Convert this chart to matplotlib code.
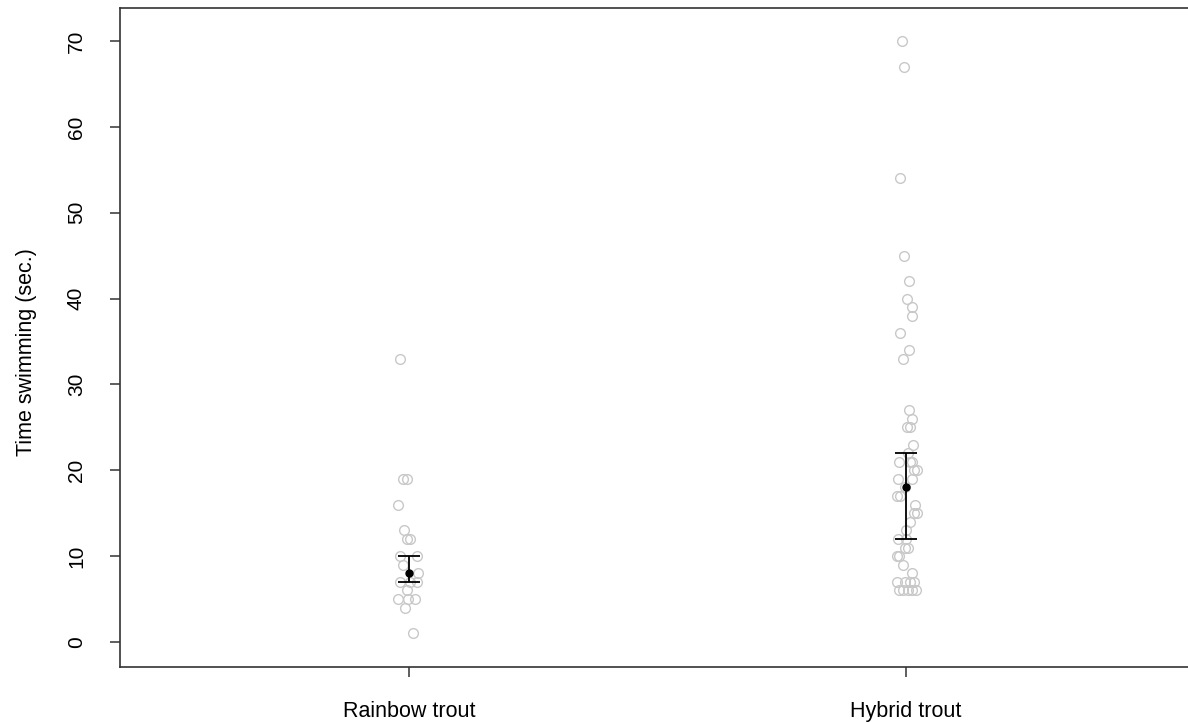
from __future__ import annotations

import matplotlib

matplotlib.use("Agg")
import matplotlib.pyplot as plt

# values (seconds), with the horizontal jitter of each point
groups = ["Rainbow trout", "Hybrid trout"]

rainbow_values = [33, 19, 19, 16, 13, 12, 12, 10, 10, 9, 8, 7, 7, 7, 6, 5, 5, 5, 4, 1]
rainbow_jitter = [-0.018, -0.012, -0.004, -0.022, -0.010, -0.004, 0.002, -0.018, 0.016,
                  -0.012, 0.018, -0.018, 0.002, 0.016, -0.004, -0.022, -0.002, 0.012,
                  -0.008, 0.008]

hybrid_values = [70, 67, 54, 45, 42, 40, 39, 38, 36, 34, 33, 27, 26, 25, 25, 23, 22,
                 21, 21, 21, 20, 20, 19, 19, 18, 17, 17, 16, 15, 15, 14, 13, 12, 12,
                 11, 11, 10, 10, 9, 8, 7, 7, 7, 7, 6, 6, 6, 6, 6]
hybrid_jitter = [-0.008, -0.004, -0.012, -0.004, 0.006, 0.002, 0.012, 0.012, -0.012,
                 0.006, -0.006, 0.006, 0.012, 0.002, 0.008, 0.014, 0.004,
                 -0.014, 0.008, 0.012, 0.022, 0.016, -0.016, 0.012, -0.002, -0.018,
                 -0.012, 0.018, 0.016, 0.022, 0.008, 0.000, -0.016, 0.000,
                 -0.002, 0.004, -0.018, -0.014, -0.006, 0.012, -0.018, -0.002, 0.008,
                 0.016, -0.014, -0.006, 0.004, 0.012, 0.020]

# centre and interval drawn in black
centre = [8, 18]
lower = [7, 12]
upper = [10, 22]

plt.rcParams["font.family"] = ["Liberation Sans", "DejaVu Sans"]

fig = plt.figure(figsize=(11.88, 7.23), dpi=100)
ax = fig.add_axes([120 / 1188, 56 / 723, (1196 - 120) / 1188, 659 / 723])

axis_color = "#333333"
for i, (vals, jit) in enumerate([(rainbow_values, rainbow_jitter), (hybrid_values, hybrid_jitter)]):
    xs = [i + 1 + j for j in jit]
    ax.plot(xs, vals, linestyle="none", marker="o", markersize=7.0,
            markerfacecolor="none", markeredgecolor="#c8c8c8", markeredgewidth=1.0)

x_pos = [1, 2]
yerr = [[c - lo for c, lo in zip(centre, lower)], [hi - c for c, hi in zip(centre, upper)]]
ax.errorbar(x_pos, centre, yerr=yerr, fmt="o", color="black", markersize=5,
            elinewidth=1.3, capsize=8, capthick=1.3, zorder=5)

ax.set_xlim(0.4185, 2.5835)
ax.set_ylim(-2.91, 73.84)
ax.set_xticks(x_pos)
ax.set_xticklabels(groups, fontsize=15.5)
ax.set_yticks(range(0, 71, 10))
ax.set_yticklabels([str(v) for v in range(0, 71, 10)], rotation=90, va="center", fontsize=15)
ax.set_ylabel("Time swimming (sec.)", fontsize=15.5)
ax.yaxis.set_label_coords(-0.077, 0.478)

ax.tick_params(axis="y", direction="out", length=7.5, width=1.1, color=axis_color, pad=17)
ax.tick_params(axis="x", direction="out", length=7.5, width=1.1, color=axis_color, pad=17)
for side in ["left", "top", "bottom", "right"]:
    ax.spines[side].set_color(axis_color)
    ax.spines[side].set_linewidth(1.2)

fig.savefig("out.png", dpi=100)
plt.close(fig)
